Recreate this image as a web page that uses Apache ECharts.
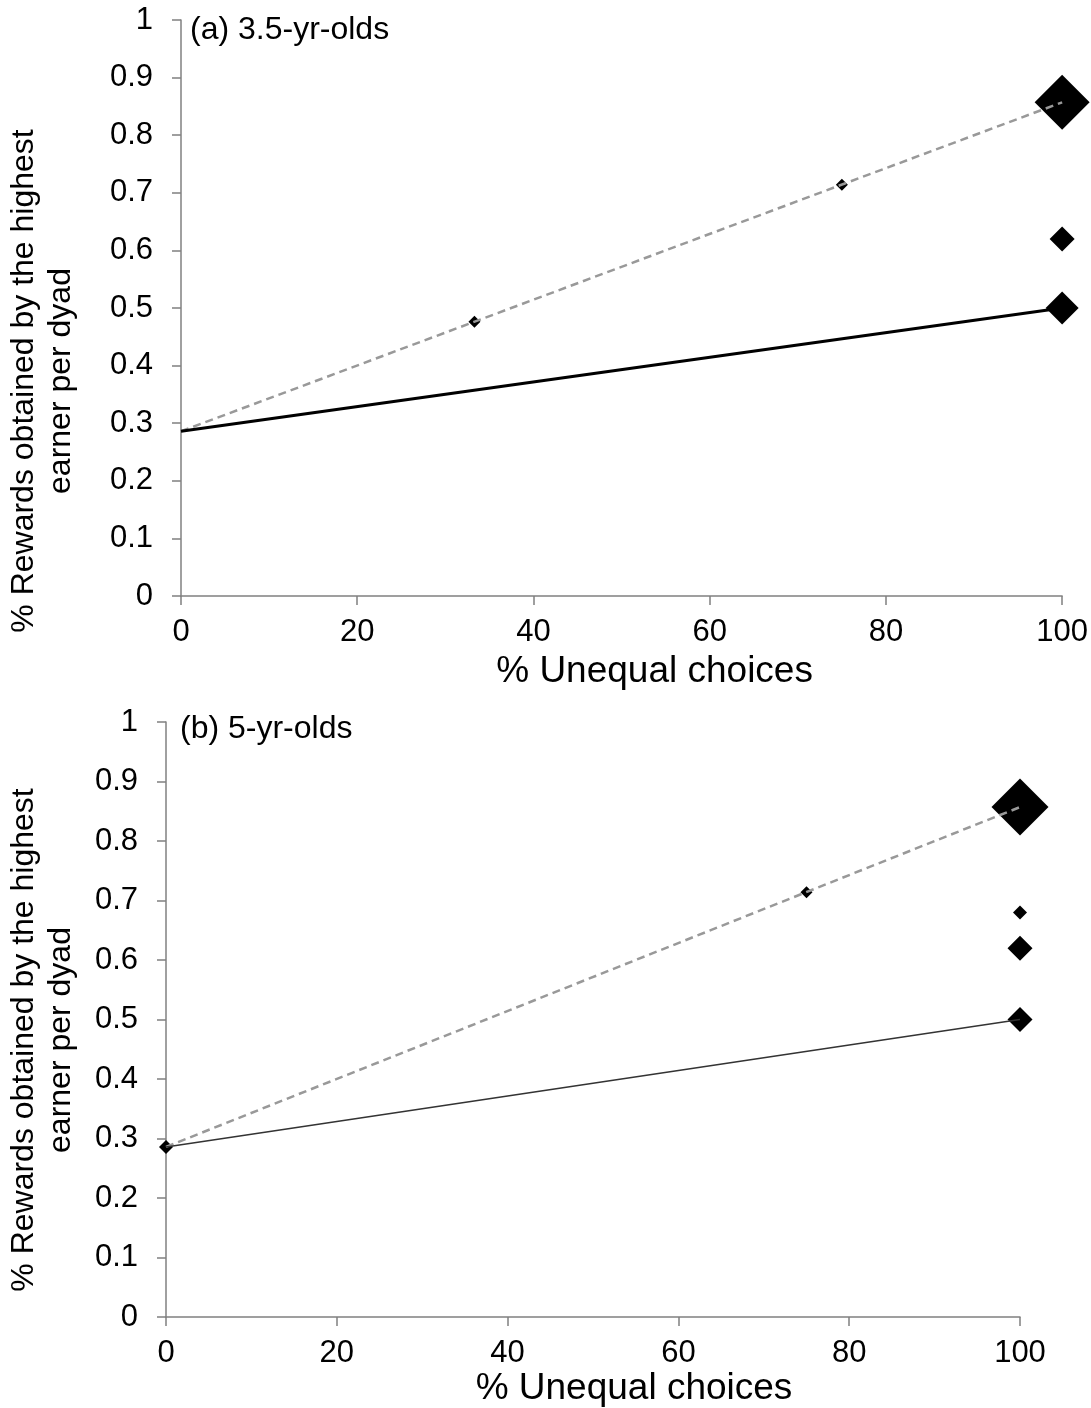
<!DOCTYPE html>
<html>
<head>
<meta charset="utf-8">
<script src="https://cdn.jsdelivr.net/npm/echarts@6/dist/echarts.min.js"></script>
<style>
  html, body { margin: 0; padding: 0; background: #fff; }
  #chart { width: 1091px; height: 1408px; }
</style>
</head>
<body>
<div id="chart"></div>
<script>
// panel titles
const panelTitles = ['(a) 3.5-yr-olds', '(b) 5-yr-olds'];
const xTicks = [0, 20, 40, 60, 80, 100];

// reference lines (equal split -> highest split)
const dashedLine = [[0, 0.286], [100, 0.857]];
const solidLine = [[0, 0.286], [100, 0.5]];

// (a) 3.5-yr-olds diamonds
const aX = [33.3, 75, 100, 100, 100];
const aY = [0.476, 0.714, 0.857, 0.62, 0.5];
const aSize = [12, 12, 55, 25, 33];

// (b) 5-yr-olds diamonds
const bX = [0, 75, 100, 100, 100, 100];
const bY = [0.286, 0.714, 0.857, 0.68, 0.62, 0.5];
const bSize = [14, 12, 57, 14, 25, 25];

const font = 'Liberation Sans, Arial, sans-serif';
const chart = echarts.init(document.getElementById('chart'));

function pts(xs, ys, sizes) {
  return xs.map((x, i) => ({ value: [x, ys[i]], symbolSize: sizes[i] }));
}

// shift: the axis title sits a bit right of the axis middle in the original
function xAxisCfg(idx, gap, shift) {
  return {
    gridIndex: idx, type: 'value', min: 0, max: 100, interval: 20,
    name: '% Unequal choices', nameLocation: 'middle', nameGap: gap,
    nameTextStyle: { fontFamily: font, fontSize: 37, color: '#000', padding: [0, 0, 0, shift * 2] },
    axisLine: { lineStyle: { color: '#808080', width: 1.5 } },
    axisTick: { show: true, inside: false, length: 9, lineStyle: { color: '#808080', width: 1.5 } },
    axisLabel: { fontFamily: font, fontSize: 31, color: '#000', margin: 21 },
    splitLine: { show: false }
  };
}

function yAxisCfg(idx) {
  return {
    gridIndex: idx, type: 'value', min: 0, max: 1, interval: 0.1,
    axisLine: { show: true, lineStyle: { color: '#808080', width: 1.5 } },
    axisTick: { show: true, inside: false, length: 9, lineStyle: { color: '#808080', width: 1.5 } },
    axisLabel: {
      fontFamily: font, fontSize: 31, color: '#000', margin: 28,
      formatter: v => String(+v.toFixed(1))
    },
    splitLine: { show: false }
  };
}

const yTitle = '% Rewards obtained by the highest\nearner per dyad';

chart.setOption({
  animation: false,
  backgroundColor: '#fff',
  grid: [
    { left: 181, right: 28, top: 20, height: 576 },
    { left: 166, right: 71, top: 722, height: 597 }
  ],
  xAxis: [xAxisCfg(0, 57, 33), xAxisCfg(1, 52, 41)],
  yAxis: [yAxisCfg(0), yAxisCfg(1)],
  graphic: [
    { type: 'text', left: 190, top: 14, style: { text: panelTitles[0], font: '32px ' + font, fill: '#000' } },
    { type: 'text', left: 180, top: 713, style: { text: panelTitles[1], font: '32px ' + font, fill: '#000' } },
    { type: 'text', x: 43, y: 381, rotation: Math.PI / 2,
      style: { text: yTitle, font: '32px ' + font, fill: '#000', align: 'center', verticalAlign: 'middle', lineHeight: 37 } },
    { type: 'text', x: 43, y: 1040, rotation: Math.PI / 2,
      style: { text: yTitle, font: '32px ' + font, fill: '#000', align: 'center', verticalAlign: 'middle', lineHeight: 37 } }
  ],
  series: [
    { type: 'line', xAxisIndex: 0, yAxisIndex: 0, data: dashedLine, showSymbol: false,
      lineStyle: { color: '#999', width: 2.5, type: [8, 5] }, z: 2 },
    { type: 'line', xAxisIndex: 0, yAxisIndex: 0, data: solidLine, showSymbol: false,
      lineStyle: { color: '#000', width: 3 }, z: 2 },
    { type: 'scatter', xAxisIndex: 0, yAxisIndex: 0, symbol: 'diamond', data: pts(aX, aY, aSize),
      itemStyle: { color: '#000', opacity: 1 }, z: 1 },
    { type: 'line', xAxisIndex: 1, yAxisIndex: 1, data: dashedLine, showSymbol: false,
      lineStyle: { color: '#999', width: 2.5, type: [8, 5] }, z: 2 },
    { type: 'line', xAxisIndex: 1, yAxisIndex: 1, data: solidLine, showSymbol: false,
      lineStyle: { color: '#333', width: 1.5 }, z: 2 },
    { type: 'scatter', xAxisIndex: 1, yAxisIndex: 1, symbol: 'diamond', data: pts(bX, bY, bSize),
      itemStyle: { color: '#000', opacity: 1 }, z: 1 }
  ]
});
</script>
</body>
</html>
